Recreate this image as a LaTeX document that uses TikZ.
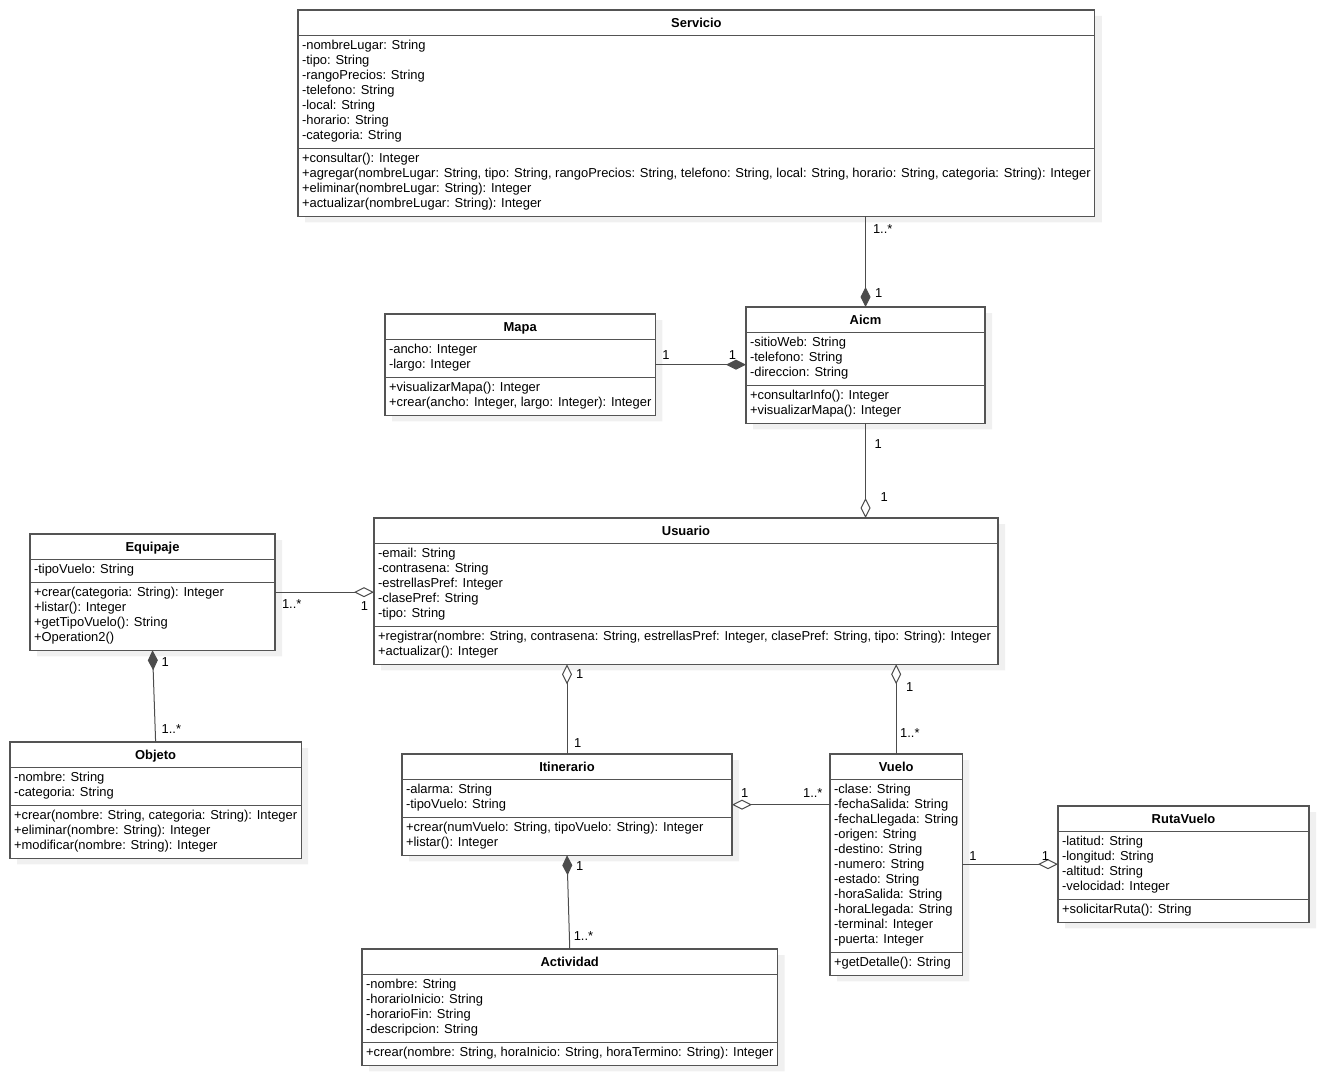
\documentclass[tikz,border=0pt]{standalone}
\usepackage{fontspec}
\setmainfont{Liberation Sans}
\usetikzlibrary{shapes.multipart,shadows,arrows.meta}
\newcommand{\umllines}[1]{\begin{tabular}{@{}l@{}}#1\end{tabular}}
\newcommand{\umltitle}[1]{\rule[-3.5pt]{0pt}{17pt}\textbf{#1}}

\begin{document}
\begin{tikzpicture}[x=1pt,y=-1pt,
  every node/.style={font=\fontsize{12.95}{15}\selectfont},
  umlclass/.style={rectangle split, rectangle split parts=3,
    rectangle split part align={center,left,left},
    draw=black!67, line width=1.1pt, fill=white, inner xsep=4pt, inner ysep=3.5pt,
    outer sep=0pt, anchor=north west,
    general shadow={fill=black!6, shadow xshift=7pt, shadow yshift=-6pt}},
  mult/.style={inner sep=0pt},
  link/.style={draw=black!70, line width=1pt},
  comp/.style={link, {Diamond[length=20pt,width=10pt]}-},
  aggr/.style={link, {Diamond[open,length=20pt,width=10pt,fill=white]}-}]
   \useasboundingbox (0,0) rectangle (1319,1075);

   \node [umlclass, minimum width=795pt] (servicio) at (298,10) {\umltitle{Servicio}
     \nodepart{second}\umllines{-nombreLugar: String\\-tipo: String\\-rangoPrecios: String\\-telefono: String\\-local: String\\-horario: String\\-categoria: String}
     \nodepart{third}\umllines{+consultar(): Integer\\+agregar(nombreLugar: String, tipo: String, rangoPrecios: String, telefono: String, local: String, horario: String, categoria: String): Integer\\+eliminar(nombreLugar: String): Integer\\+actualizar(nombreLugar: String): Integer}};
   \node [umlclass, minimum width=270pt] (mapa) at (385,314) {\umltitle{Mapa}
     \nodepart{second}\umllines{-ancho: Integer\\-largo: Integer}
     \nodepart{third}\umllines{+visualizarMapa(): Integer\\+crear(ancho: Integer, largo: Integer): Integer}};
   \node [umlclass, minimum width=239pt] (aicm) at (746,307) {\umltitle{Aicm}
     \nodepart{second}\umllines{-sitioWeb: String\\-telefono: String\\-direccion: String}
     \nodepart{third}\umllines{+consultarInfo(): Integer\\+visualizarMapa(): Integer}};
   \node [umlclass, minimum width=624pt] (usuario) at (374,518) {\umltitle{Usuario}
     \nodepart{second}\umllines{-email: String\\-contrasena: String\\-estrellasPref: Integer\\-clasePref: String\\-tipo: String}
     \nodepart{third}\umllines{+registrar(nombre: String, contrasena: String, estrellasPref: Integer, clasePref: String, tipo: String): Integer\\+actualizar(): Integer}};
   \node [umlclass, minimum width=245pt] (equipaje) at (30,534) {\umltitle{Equipaje}
     \nodepart{second}\umllines{-tipoVuelo: String}
     \nodepart{third}\umllines{+crear(categoria: String): Integer\\+listar(): Integer\\+getTipoVuelo(): String\\+Operation2()}};
   \node [umlclass, minimum width=290pt] (objeto) at (10,742) {\umltitle{Objeto}
     \nodepart{second}\umllines{-nombre: String\\-categoria: String}
     \nodepart{third}\umllines{+crear(nombre: String, categoria: String): Integer\\+eliminar(nombre: String): Integer\\+modificar(nombre: String): Integer}};
   \node [umlclass, minimum width=330pt] (itinerario) at (402,754) {\umltitle{Itinerario}
     \nodepart{second}\umllines{-alarma: String\\-tipoVuelo: String}
     \nodepart{third}\umllines{+crear(numVuelo: String, tipoVuelo: String): Integer\\+listar(): Integer}};
   \node [umlclass, minimum width=132pt] (vuelo) at (830,754) {\umltitle{Vuelo}
     \nodepart{second}\umllines{-clase: String\\-fechaSalida: String\\-fechaLlegada: String\\-origen: String\\-destino: String\\-numero: String\\-estado: String\\-horaSalida: String\\-horaLlegada: String\\-terminal: Integer\\-puerta: Integer}
     \nodepart{third}\umllines{+getDetalle(): String}};
   \node [umlclass, minimum width=251pt] (rutavuelo) at (1058,806) {\umltitle{RutaVuelo}
     \nodepart{second}\umllines{-latitud: String\\-longitud: String\\-altitud: String\\-velocidad: Integer}
     \nodepart{third}\umllines{+solicitarRuta(): String}};
   \node [umlclass, minimum width=415pt] (actividad) at (362,949) {\umltitle{Actividad}
     \nodepart{second}\umllines{-nombre: String\\-horarioInicio: String\\-horarioFin: String\\-descripcion: String}
     \nodepart{third}\umllines{+crear(nombre: String, horaInicio: String, horaTermino: String): Integer}};

    \path
    (aicm.north) edge [comp] node [mult, at start, anchor=west, xshift=9pt, yshift=14pt] {1}
                             node [mult, at end, anchor=west, xshift=7pt, yshift=-13pt] {1..*} (aicm.north |- servicio.south)
    (mapa.east -| aicm.west) edge [comp] node [mult, at start, anchor=east, xshift=-9.5pt, yshift=10pt] {1}
                             node [mult, at end, anchor=west, xshift=6.5pt, yshift=10pt] {1} (mapa.east)
    (aicm.south |- usuario.north) edge [aggr] node [mult, at start, anchor=west, xshift=14.5pt, yshift=21pt] {1}
                             node [mult, at end, anchor=west, xshift=8.5pt, yshift=-21pt] {1} (aicm.south)
    (equipaje.east -| usuario.west) edge [aggr] node [mult, at start, anchor=east, xshift=-5.5pt, yshift=-14pt] {1}
                             node [mult, at end, anchor=west, xshift=6.5pt, yshift=-12pt] {1..*} (equipaje.east)
    (equipaje.south) edge [comp] node [mult, at start, anchor=west, xshift=8.5pt, yshift=-12pt] {1}
                             node [mult, at end, anchor=west, xshift=5.5pt, yshift=13pt] {1..*} (objeto.north)
    (itinerario.north |- usuario.south) edge [aggr] node [mult, at start, anchor=west, xshift=8.5pt, yshift=-10pt] {1}
                             node [mult, at end, anchor=west, xshift=6.5pt, yshift=11pt] {1} (itinerario.north)
    (vuelo.north |- usuario.south) edge [aggr] node [mult, at start, anchor=west, xshift=9.5pt, yshift=-23pt] {1}
                             node [mult, at end, anchor=west, xshift=3.5pt, yshift=21pt] {1..*} (vuelo.north)
    (itinerario.east) edge [aggr] node [mult, at start, anchor=west, xshift=8.5pt, yshift=12pt] {1}
                             node [mult, at end, anchor=east, xshift=-7pt, yshift=12pt] {1..*} (itinerario.east -| vuelo.west)
    (itinerario.south) edge [comp] node [mult, at start, anchor=west, xshift=8.5pt, yshift=-11pt] {1}
                             node [mult, at end, anchor=west, xshift=3.5pt, yshift=13pt] {1..*} (actividad.north)
    (rutavuelo.west) edge [aggr] node [mult, at start, anchor=east, xshift=-8.5pt, yshift=8pt] {1}
                             node [mult, at end, anchor=west, xshift=6.5pt, yshift=8pt] {1} (rutavuelo.west -| vuelo.east);
\end{tikzpicture}
\end{document}
